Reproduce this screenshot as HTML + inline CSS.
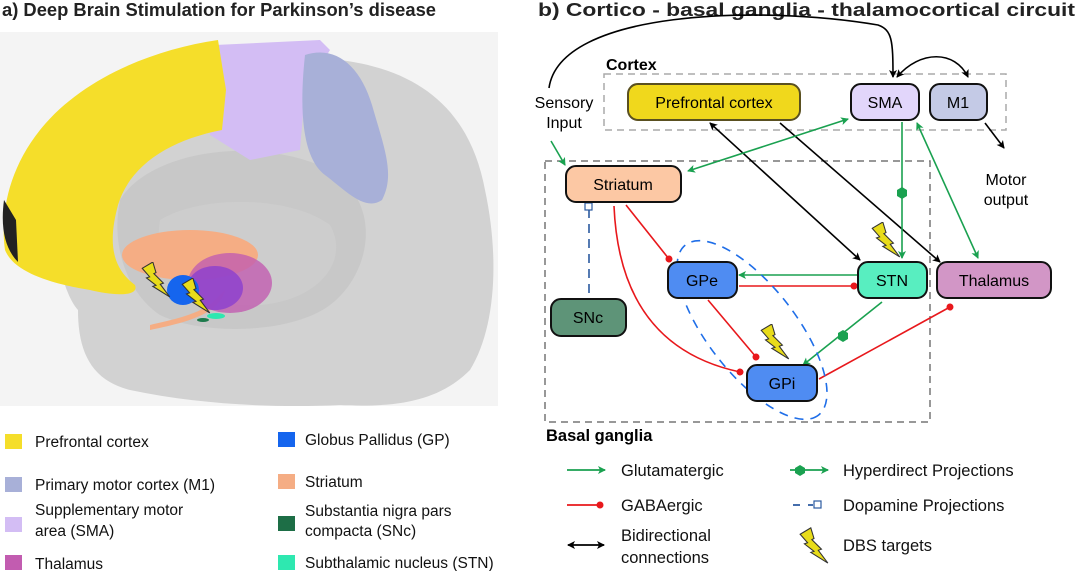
<!DOCTYPE html>
<html><head><meta charset="utf-8"><style>
body{margin:0;width:1080px;height:571px;background:#fff;overflow:hidden;font-family:"Liberation Sans",Arial,sans-serif;}
svg{position:absolute;left:0;top:0}
text{font-family:"Liberation Sans",Arial,sans-serif}
</style></head><body>
<svg width="1080" height="571" viewBox="0 0 1080 571">
<defs>
<marker id="ag" markerWidth="8" markerHeight="8" refX="7" refY="4" orient="auto-start-reverse" markerUnits="userSpaceOnUse"><path d="M0,0 L8,4 L0,8 L2,4z" fill="#1aa150"/></marker>
<marker id="ak" markerWidth="8" markerHeight="8" refX="7" refY="4" orient="auto-start-reverse" markerUnits="userSpaceOnUse"><path d="M0,0 L8,4 L0,8 L2,4z" fill="#000"/></marker>
<marker id="dr" markerWidth="8" markerHeight="8" refX="4" refY="4" orient="auto" markerUnits="userSpaceOnUse"><circle cx="4" cy="4" r="3.5" fill="#e8181c"/></marker>
<symbol id="bolt" viewBox="0 0 30 34"><path d="M2,6 L12,0 L15,10 L13,11 L22,20 L19,21 L28,33 L12,23 L15,22 L6,15 L9,14z" fill="#e8dc1a" stroke="#333" stroke-width="1"/></symbol>
</defs>
<text x="2" y="16" font-size="18" font-weight="bold" fill="#222" textLength="434" lengthAdjust="spacingAndGlyphs">a) Deep Brain Stimulation for Parkinson’s disease</text>
<text x="538" y="16" font-size="18" font-weight="bold" fill="#222" textLength="537" lengthAdjust="spacingAndGlyphs">b) Cortico - basal ganglia - thalamocortical circuit</text>
<rect x="0" y="32" width="498" height="374" fill="#f4f4f4"/>
<path d="M60,150 C120,70 250,50 340,60 C420,70 470,110 485,190 C500,260 495,330 470,370 C440,400 400,408 340,405 C280,408 200,405 130,390 C90,380 78,350 78,310 C60,290 45,220 60,150z" fill="#d2d2d2"/>
<path d="M120,200 C150,150 260,135 330,170 C385,205 370,275 330,305 C290,335 200,335 160,315 C130,295 110,250 120,200z" fill="#c6c6c6" opacity="0.8"/>
<path d="M160,220 C200,195 290,195 330,225 C350,260 320,300 260,305 C200,308 150,280 160,220z" fill="#cdcdcd"/>
<path d="M215,45 L320,40 L330,50 L305,90 L300,150 L250,160 L210,135 L208,80z" fill="#d3bdf4"/>
<path d="M305,55 C335,45 360,65 372,105 C385,150 395,175 382,200 C365,212 345,190 325,175 C305,160 298,120 305,55z" fill="#a8b0d8"/>
<path d="M218,40 C150,50 80,80 40,130 C8,170 0,215 5,250 C15,275 60,285 90,290 C110,295 140,298 135,285 C108,265 110,235 118,205 C130,165 170,140 222,130 L226,90z" fill="#f5de2a"/>
<path d="M4,200 C0,230 6,250 18,262 L16,220z" fill="#222"/>
<ellipse cx="190" cy="255" rx="68" ry="25" fill="#f5ad84"/>
<path d="M150,330 C200,320 220,310 225,290 L215,300 C200,315 170,320 150,325z" fill="#f5ad84"/>
<ellipse cx="230" cy="283" rx="42" ry="30" fill="#c25cb0" opacity="0.8"/>
<ellipse cx="215" cy="288" rx="28" ry="22" fill="#8b3fd0" opacity="0.8"/>
<ellipse cx="183" cy="290" rx="16" ry="15" fill="#1565ee"/>
<ellipse cx="216" cy="316" rx="9" ry="3" fill="#2ee8b0"/>
<ellipse cx="203" cy="320" rx="6" ry="2" fill="#1d7a4c"/>
<use href="#bolt" x="140" y="262" width="32" height="36"/>
<use href="#bolt" x="180" y="278" width="32" height="36"/>
<g font-size="15.5" fill="#111">
<rect x="5" y="434" width="17" height="15" fill="#f5de2a"/><text x="35" y="447">Prefrontal cortex</text>
<rect x="5" y="477" width="17" height="15" fill="#a8b0d8"/><text x="35" y="490">Primary motor cortex (M1)</text>
<rect x="5" y="517" width="17" height="15" fill="#d3bdf4"/><text x="35" y="515">Supplementary motor</text><text x="35" y="536">area (SMA)</text>
<rect x="5" y="555" width="17" height="15" fill="#c25cb0"/><text x="35" y="569">Thalamus</text>
<rect x="278" y="432" width="17" height="15" fill="#1565ee"/><text x="305" y="445">Globus Pallidus (GP)</text>
<rect x="278" y="474" width="17" height="15" fill="#f5ad84"/><text x="305" y="487">Striatum</text>
<rect x="278" y="516" width="17" height="15" fill="#1d6e46"/><text x="305" y="516">Substantia nigra pars</text><text x="305" y="536">compacta (SNc)</text>
<rect x="278" y="555" width="17" height="15" fill="#2ee8b0"/><text x="305" y="568">Subthalamic nucleus (STN)</text>
</g>
<rect x="604" y="74" width="402" height="56" fill="none" stroke="#aaa" stroke-width="1.5" stroke-dasharray="7,5"/>
<rect x="545" y="161" width="385" height="261" fill="none" stroke="#777" stroke-width="1.5" stroke-dasharray="7,5"/>
<text x="606" y="70" font-size="16" font-weight="bold">Cortex</text>
<text x="546" y="441" font-size="16.5" font-weight="bold">Basal ganglia</text>
<g font-size="16" text-anchor="middle">
<text x="564" y="108">Sensory</text><text x="564" y="128">Input</text>
<text x="1006" y="185">Motor</text><text x="1006" y="205">output</text>
</g>
<g fill="none" stroke-width="1.6">
<path d="M549,88 C560,10 760,5 878,25 C892,30 893,40 893,77" stroke="#000" marker-end="url(#ak)"/>
<path d="M897,77 C920,50 955,50 968,77" stroke="#000" marker-start="url(#ak)" marker-end="url(#ak)"/>
<path d="M985,123 L1004,148" stroke="#000" marker-end="url(#ak)"/>
<path d="M710,123 L860,260" stroke="#000" marker-start="url(#ak)" marker-end="url(#ak)"/>
<path d="M780,123 L940,262" stroke="#000" marker-end="url(#ak)"/>
<path d="M551,141 L565,165" stroke="#1aa150" marker-end="url(#ag)"/>
<path d="M848,119 L688,171" stroke="#1aa150" marker-start="url(#ag)" marker-end="url(#ag)"/>
<path d="M902,122 L902,258" stroke="#1aa150" marker-end="url(#ag)"/>
<path d="M917,123 L978,258" stroke="#1aa150" marker-start="url(#ag)" marker-end="url(#ag)"/>
<path d="M857,275 L739,275" stroke="#1aa150" marker-end="url(#ag)"/>
<path d="M882,302 L803,365" stroke="#1aa150" marker-end="url(#ag)"/>
<path d="M626,205 L669,259" stroke="#e8181c" marker-end="url(#dr)"/>
<path d="M614,206 C618,300 660,355 740,372" stroke="#e8181c" marker-end="url(#dr)"/>
<path d="M739,286 L854,286" stroke="#e8181c" marker-end="url(#dr)"/>
<path d="M708,300 L756,357" stroke="#e8181c" marker-end="url(#dr)"/>
<path d="M819,379 L950,307" stroke="#e8181c" marker-end="url(#dr)"/>
<path d="M589,209 L589,296" stroke="#2b5aa0" stroke-dasharray="9,6"/>
</g>
<rect x="585" y="203" width="7" height="7" fill="#fff" stroke="#2b5aa0" stroke-width="1.2"/>
<polygon points="902,187 907,190 907,196 902,199 897,196 897,190" fill="#1aa150"/>
<polygon points="843,330 848,333 848,339 843,342 838,339 838,333" fill="#1aa150"/>
<ellipse cx="752" cy="330" rx="108" ry="44" transform="rotate(52 752 330)" fill="none" stroke="#1f6ee8" stroke-width="1.6" stroke-dasharray="9,7"/>
<g stroke-width="2" font-size="16" text-anchor="middle">
<rect x="628" y="84" width="172" height="36" rx="10" fill="#f0d81c" stroke="#5a5020"/>
<text x="714" y="108" stroke="none">Prefrontal cortex</text>
<rect x="851" y="84" width="68" height="36" rx="10" fill="#e2d6fb" stroke="#111"/>
<text x="885" y="108" stroke="none">SMA</text>
<rect x="930" y="84" width="57" height="36" rx="10" fill="#c4cae6" stroke="#111"/>
<text x="958" y="108" stroke="none">M1</text>
<rect x="566" y="166" width="115" height="36" rx="10" fill="#fcc8a4" stroke="#111"/>
<text x="623" y="190" stroke="none">Striatum</text>
<rect x="551" y="299" width="75" height="37" rx="10" fill="#5e9478" stroke="#111"/>
<text x="588" y="323" stroke="none">SNc</text>
<rect x="668" y="262" width="69" height="36" rx="10" fill="#4f8cf2" stroke="#111"/>
<text x="702" y="286" stroke="none">GPe</text>
<rect x="858" y="262" width="69" height="36" rx="10" fill="#58eec0" stroke="#111"/>
<text x="892" y="286" stroke="none">STN</text>
<rect x="937" y="262" width="114" height="36" rx="10" fill="#d296c6" stroke="#111"/>
<text x="994" y="286" stroke="none">Thalamus</text>
<rect x="747" y="365" width="70" height="36" rx="10" fill="#4f8cf2" stroke="#111"/>
<text x="782" y="389" stroke="none">GPi</text>
</g>
<use href="#bolt" x="870" y="222" width="32" height="36"/>
<use href="#bolt" x="759" y="324" width="32" height="36"/>
<g stroke-width="1.8" fill="none">
<path d="M567,470 L605,470" stroke="#1aa150" marker-end="url(#ag)"/>
<path d="M567,505 L600,505" stroke="#e8181c" marker-end="url(#dr)"/>
<path d="M568,545 L604,545" stroke="#000" marker-start="url(#ak)" marker-end="url(#ak)"/>
<path d="M790,470 L828,470" stroke="#1aa150" marker-end="url(#ag)"/>
<path d="M793,505 L800,505 M808,505 L813,505" stroke="#2b5aa0"/>
</g>
<polygon points="800,465 805,468 805,473 800,476 795,473 795,468" fill="#1aa150"/>
<rect x="814" y="501" width="7" height="7" fill="#fff" stroke="#2b5aa0" stroke-width="1.2"/>
<use href="#bolt" x="798" y="526" width="32" height="40"/>
<g font-size="16.5" fill="#111">
<text x="621" y="476">Glutamatergic</text>
<text x="621" y="511">GABAergic</text>
<text x="621" y="541">Bidirectional</text><text x="621" y="563">connections</text>
<text x="843" y="476">Hyperdirect Projections</text>
<text x="843" y="511">Dopamine Projections</text>
<text x="843" y="551">DBS targets</text>
</g>
</svg>
</body></html>
